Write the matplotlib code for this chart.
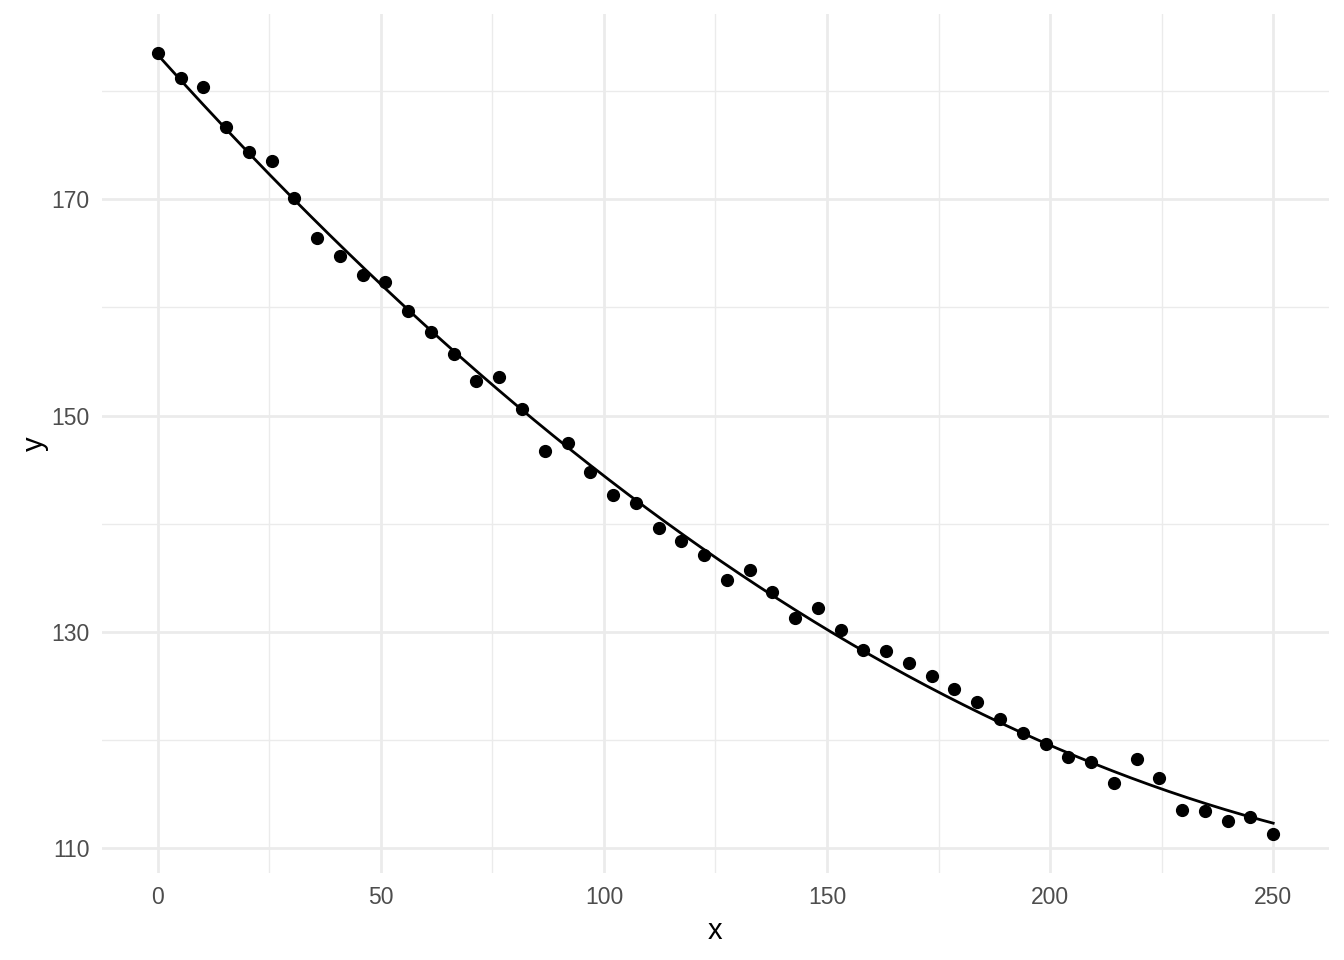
import numpy as np
import matplotlib
matplotlib.use("Agg")
import matplotlib.pyplot as plt
from matplotlib.ticker import MultipleLocator

# data
x = np.linspace(0, 250, 50)
y = [183.49, 181.18, 180.35, 176.65, 174.34, 173.51, 170.09, 166.40, 164.73, 162.98,
     162.33, 159.65, 157.71, 155.68, 153.19, 153.56, 150.60, 146.72, 147.46, 144.78,
     142.66, 141.92, 139.61, 138.41, 137.11, 134.80, 135.73, 133.70, 131.29, 132.22,
     130.18, 128.34, 128.24, 127.14, 125.94, 124.73, 123.53, 121.96, 120.67, 119.65,
     118.45, 117.99, 116.05, 118.27, 116.51, 113.56, 113.46, 112.54, 112.91, 111.34]
y = np.array(y)

x_ticks = [0, 50, 100, 150, 200, 250]
y_ticks = [110, 130, 150, 170]

plt.rcParams['font.family'] = ['Liberation Sans', 'DejaVu Sans']

fig = plt.figure(figsize=(13.44, 9.6), dpi=100)
ax = fig.add_axes([0.0759, 0.0906, 0.9129, 0.8948])

# fitted curve (quadratic least squares)
coef = np.polyfit(x, y, 2)
xs = np.linspace(0, 250, 300)
ax.plot(xs, np.polyval(coef, xs), color='black', lw=2.0, zorder=3)
ax.plot(x, y, 'o', color='black', ms=8.5, zorder=4)

xr = x.max() - x.min()
yr = y.max() - y.min()
ax.set_xlim(x.min() - 0.05 * xr, x.max() + 0.05 * xr)
ax.set_ylim(y.min() - 0.05 * yr, y.max() + 0.05 * yr)

ax.set_xticks(x_ticks)
ax.set_yticks(y_ticks)
ax.xaxis.set_minor_locator(MultipleLocator(25))
ax.yaxis.set_minor_locator(MultipleLocator(10))
ax.grid(which='major', color='#EBEBEB', lw=2.0)
ax.grid(which='minor', color='#EBEBEB', lw=1.0)
ax.set_axisbelow(True)
for s in ax.spines.values():
    s.set_visible(False)
ax.tick_params(which='both', length=0)
ax.tick_params(axis='x', labelsize=16.5, labelcolor='#4D4D4D', pad=9)
ax.tick_params(axis='y', labelsize=16.5, labelcolor='#4D4D4D', pad=9)
ax.set_xlabel('x', fontsize=21, labelpad=6)
ax.set_ylabel('y', fontsize=21, labelpad=2)

fig.savefig('out.png', dpi=100)
